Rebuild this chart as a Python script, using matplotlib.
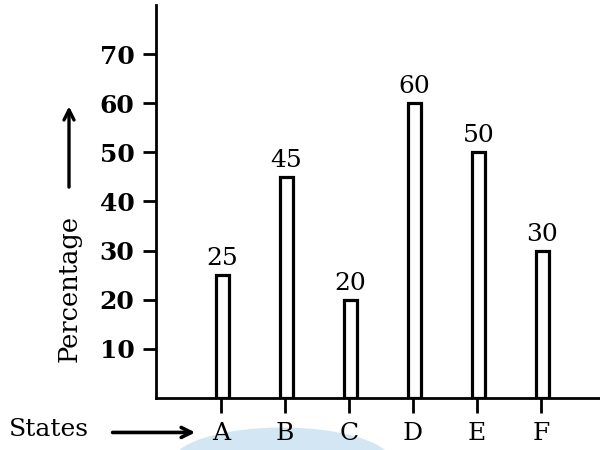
import matplotlib
matplotlib.use("Agg")
import matplotlib.pyplot as plt
from matplotlib.patches import Ellipse

states = ["A", "B", "C", "D", "E", "F"]
percentages = [25, 45, 20, 60, 50, 30]
yticks = [10, 20, 30, 40, 50, 60, 70]

plt.rcParams['font.family'] = ['DejaVu Serif']

fig = plt.figure(figsize=(6, 4.5), dpi=100)
# faint watermark blob in a background axes
bg = fig.add_axes([0, 0, 1, 1], zorder=-10)
bg.set_axis_off()
bg.set_xlim(0, 1)
bg.set_ylim(0, 1)
bg.add_patch(Ellipse((0.47, -0.03), 0.37, 0.16, facecolor='#d3e6f4', edgecolor='none'))

ax = fig.add_axes([0.26, 0.1156, 0.74, 0.8734])
ax.patch.set_alpha(0)

x = list(range(len(states)))
ax.bar([i + 0.02 for i in x], percentages, width=0.2, facecolor='white',
       edgecolor='black', linewidth=2.3, zorder=3)
for i, v in zip(x, percentages):
    ax.text(i + 0.02, v + 1.0, str(v), ha='center', va='bottom', fontsize=18)

ax.set_xlim(-1.016, 5.92)
ax.set_ylim(0, 80)
ax.set_yticks(yticks)
ax.set_yticklabels([str(t) for t in yticks], fontsize=18, fontweight='bold')
ax.set_xticks(x)
ax.set_xticklabels(states, fontsize=18)
ax.tick_params(axis='y', direction='out', length=9.5, width=2, pad=6)
ax.tick_params(axis='x', direction='out', length=11, width=2, pad=6)
for s in ['top', 'right']:
    ax.spines[s].set_visible(False)
for s in ['left', 'bottom']:
    ax.spines[s].set_linewidth(2)

fig.text(0.115, 0.36, "Percentage", rotation=90, ha='center', va='center', fontsize=18.5)
ax.annotate("", xy=(0.115, 0.77), xytext=(0.115, 0.578), xycoords='figure fraction',
            textcoords='figure fraction',
            arrowprops=dict(arrowstyle='->', color='black', lw=2.4, mutation_scale=18))
fig.text(0.015, 0.046, "States", ha='left', va='center', fontsize=18)
ax.annotate("", xy=(0.33, 0.039), xytext=(0.183, 0.039), xycoords='figure fraction',
            textcoords='figure fraction',
            arrowprops=dict(arrowstyle='->', color='black', lw=2.6, mutation_scale=18))

fig.savefig("out.png", dpi=100)
